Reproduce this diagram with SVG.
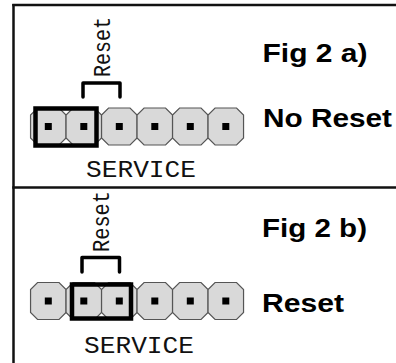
<svg xmlns="http://www.w3.org/2000/svg" xmlns:xlink="http://www.w3.org/1999/xlink" width="396" height="363" viewBox="0 0 396 363">
  <style>
    .frame { stroke: #111; stroke-width: 2.5; fill: none; }
    .oct { fill: #d9d9d9; stroke: #555; stroke-width: 1.2; }
    .sq { fill: #000; }
    .jumper { fill: none; stroke: #000; stroke-width: 4.5; }
    .bracket { fill: none; stroke: #000; stroke-width: 3.5; stroke-linecap: round; stroke-linejoin: round; }
    .mono { font-family: "Liberation Mono", "DejaVu Sans Mono", monospace; fill: #111; }
    .label { font-family: "Liberation Sans", Arial, sans-serif; font-weight: bold; font-size: 25.5px; fill: #000; }
  </style>
  <defs>
    <g id="pin">
      <polygon class="oct" points="-10.75,-18.5 10.75,-18.5 17.75,-11.5 17.75,11.5 10.75,18.5 -10.75,18.5 -17.75,11.5 -17.75,-11.5"/>
      <rect class="sq" x="-3.5" y="-3.5" width="7" height="7"/>
    </g>
  </defs>

  <g id="frame">
    <line class="frame" x1="13.5" y1="4" x2="13.5" y2="363"/>
    <line class="frame" x1="12.3" y1="5" x2="396" y2="5"/>
    <line class="frame" x1="12.3" y1="187.5" x2="396" y2="187.5"/>
  </g>

  <!-- Figure a -->
  <g id="header-a">
    <g id="pin-a1"><use xlink:href="#pin" x="48.3" y="126.5"/></g>
    <g id="pin-a2"><use xlink:href="#pin" x="83.8" y="126.5"/></g>
    <g id="pin-a3"><use xlink:href="#pin" x="119.3" y="126.5"/></g>
    <g id="pin-a4"><use xlink:href="#pin" x="154.8" y="126.5"/></g>
    <g id="pin-a5"><use xlink:href="#pin" x="190.3" y="126.5"/></g>
    <g id="pin-a6"><use xlink:href="#pin" x="225.8" y="126.5"/></g>
  </g>
  <g id="jumper-a">
    <rect class="jumper" x="35.5" y="108.5" width="61" height="37"/>
  </g>
  <g id="bracket-a">
    <path class="bracket" d="M83,97 V83 H120 V97"/>
    <text class="mono" font-size="23" transform="translate(110,77) rotate(-90)" textLength="60" lengthAdjust="spacingAndGlyphs">Reset</text>
  </g>
  <g id="service-a">
    <text class="mono" x="86" y="177" font-size="24" textLength="110" lengthAdjust="spacingAndGlyphs">SERVICE</text>
  </g>
  <g id="title-a">
    <text class="label" x="262.5" y="61.5" textLength="105" lengthAdjust="spacingAndGlyphs">Fig 2 a)</text>
  </g>
  <g id="state-a">
    <text class="label" x="263" y="126.7" textLength="129" lengthAdjust="spacingAndGlyphs">No Reset</text>
  </g>

  <!-- Figure b -->
  <g id="header-b">
    <g id="pin-b1"><use xlink:href="#pin" x="48.3" y="301"/></g>
    <g id="pin-b2"><use xlink:href="#pin" x="83.8" y="301"/></g>
    <g id="pin-b3"><use xlink:href="#pin" x="119.3" y="301"/></g>
    <g id="pin-b4"><use xlink:href="#pin" x="154.8" y="301"/></g>
    <g id="pin-b5"><use xlink:href="#pin" x="190.3" y="301"/></g>
    <g id="pin-b6"><use xlink:href="#pin" x="225.8" y="301"/></g>
  </g>
  <g id="jumper-b">
    <rect class="jumper" x="72" y="284.5" width="59" height="34"/>
  </g>
  <g id="bracket-b">
    <path class="bracket" d="M82,272 V257.5 H119.5 V272"/>
    <text class="mono" font-size="23" transform="translate(108.5,252) rotate(-90)" textLength="61" lengthAdjust="spacingAndGlyphs">Reset</text>
  </g>
  <g id="service-b">
    <text class="mono" x="84" y="353" font-size="24" textLength="110" lengthAdjust="spacingAndGlyphs">SERVICE</text>
  </g>
  <g id="title-b">
    <text class="label" x="262" y="237" textLength="105" lengthAdjust="spacingAndGlyphs">Fig 2 b)</text>
  </g>
  <g id="state-b">
    <text class="label" x="262" y="312" textLength="82" lengthAdjust="spacingAndGlyphs">Reset</text>
  </g>
</svg>
